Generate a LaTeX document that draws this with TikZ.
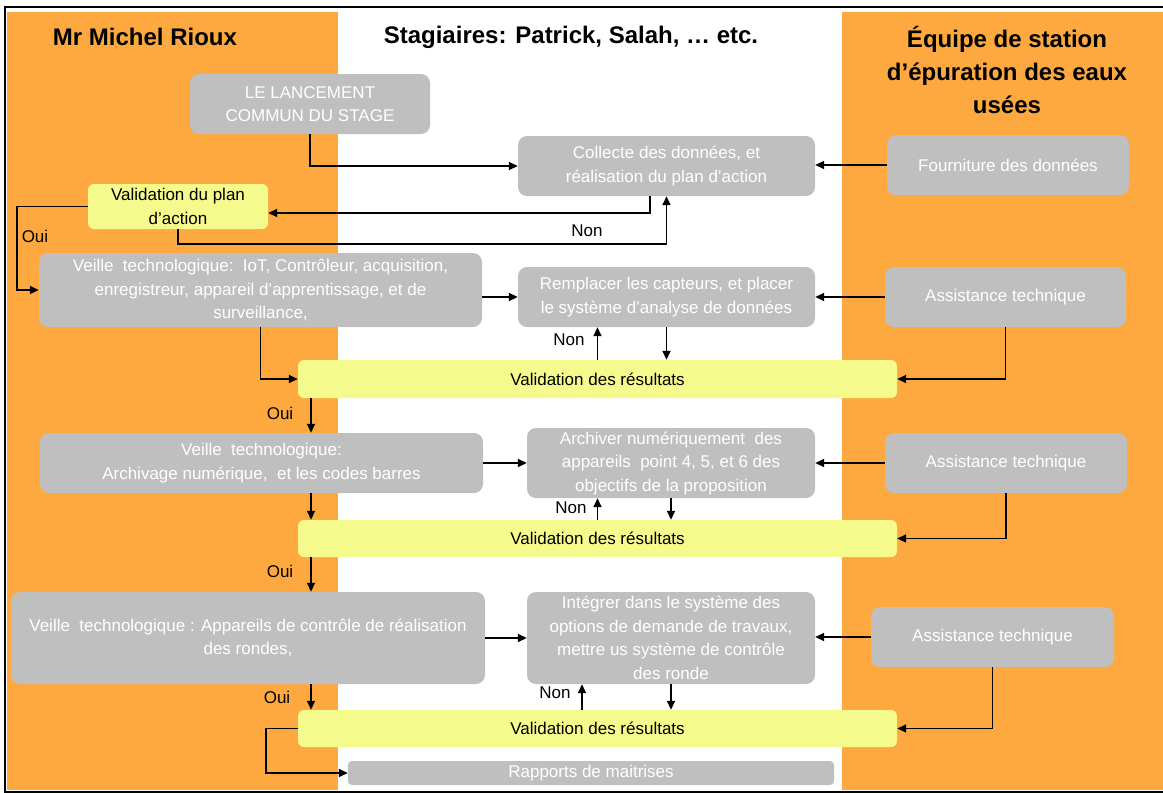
\documentclass[tikz,border=0pt]{standalone}
\usepackage{fontspec}
\setmainfont{Liberation Sans}
\usetikzlibrary{arrows.meta}
\definecolor{laneorange}{RGB}{253,169,64}
\definecolor{boxgray}{RGB}{191,191,191}
\definecolor{checkyellow}{RGB}{244,250,140}
\newcommand{\bodyfont}{\fontsize{17}{23.5}\selectfont}
\newcommand{\headfont}{\fontsize{24}{33}\selectfont\bfseries}

\begin{document}
\begin{tikzpicture}[x=1pt,y=-1pt,
  task/.style={rounded corners=9pt, fill=boxgray, text=white, inner sep=0pt, align=center, font=\bodyfont},
  check/.style={rounded corners=6pt, fill=checkyellow, text=black, inner sep=0pt, align=center, font=\bodyfont},
  lbl/.style={font=\bodyfont, inner sep=0pt},
  head/.style={font=\headfont, align=center, inner sep=0pt},
  arr/.style={line width=1.6pt, -{Triangle[length=9pt,width=8pt]}}]

\useasboundingbox (0,0) rectangle (1163,793);

% swimlanes and frame
\fill[laneorange] (7,12) rectangle (338,790);
\fill[laneorange] (842,12) rectangle (1165,790);
\draw[line width=1.5pt] (5,7) rectangle (1166,792);

% lane headings
\node[head] (hleft) at (145,37) {Mr Michel Rioux};
\node[head] (hmid) at (571,37) {Stagiaires: Patrick, Salah, … etc.};
\node[head] (hright) at (1007,70) {Équipe de station\\d’épuration des eaux\\usées};

% shared column for the downward flow
\coordinate (colx) at (311,0);

% process boxes
\node[task, minimum width=240pt, minimum height=60pt] (lanc) at (310,104) {LE LANCEMENT\\COMMUN DU STAGE};
\node[task, minimum width=297pt, minimum height=60pt] (coll) at (666.5,166) {Collecte des données, et\\réalisation du plan d’action};
\node[task, minimum width=242pt, minimum height=60pt] (fourn) at (1008,165) {Fourniture des données};
\node[check, minimum width=180pt, minimum height=45pt] (vplan) at (178,206.5) {Validation du plan\\d’action};

\node[task, minimum width=443pt, minimum height=74pt] (v1) at (260.5,290) {Veille\ \ technologique:\ \ IoT, Contrôleur, acquisition,\\enregistreur, appareil d’apprentissage, et de\\surveillance,};
\node[task, minimum width=297pt, minimum height=60pt] (rempl) at (666.5,297) {Remplacer les capteurs, et placer\\le système d’analyse de données};
\node[task, minimum width=241pt, minimum height=60pt] (ast1) at (1005.5,297) {Assistance technique};
\node[check, minimum width=599pt, minimum height=38pt] (val1) at (597.5,379) {Validation des résultats};

\node[task, minimum width=443pt, minimum height=60pt] (v2) at (261.5,463) {Veille\ \ technologique:\\Archivage numérique,\ \ et les codes barres};
\node[task, minimum width=288pt, minimum height=70pt] (arch) at (671,463) {Archiver numériquement\ \ des\\appareils\ \ point 4, 5, et 6 des\\objectifs de la proposition};
\node[task, minimum width=242pt, minimum height=60pt] (ast2) at (1006,463) {Assistance technique};
\node[check, minimum width=599pt, minimum height=37pt] (val2) at (597.5,538.5) {Validation des résultats};

\node[task, minimum width=474pt, minimum height=92pt] (v3) at (248,638) {Veille\ \ technologique : Appareils de contrôle de réalisation\\des rondes,};
\node[task, minimum width=288pt, minimum height=92pt] (integ) at (671,638) {Intégrer dans le système des\\options de demande de travaux,\\mettre us système de contrôle\\des ronde};
\node[task, minimum width=243pt, minimum height=60pt] (ast3) at (992.5,637) {Assistance technique};
\node[check, minimum width=599pt, minimum height=37pt] (val3) at (597.5,728.5) {Validation des résultats};

\node[task, rounded corners=4pt, minimum width=486pt, minimum height=24pt] (rapp) at (591,773) {Rapports de maitrises};

% connectors: kick-off and action plan
\draw[arr] (lanc.south) |- (coll.west);
\draw[arr] (fourn.west) -- (fourn.west -| coll.east);
\draw[arr] ([xshift=-16.5pt]coll.south) |- ([yshift=-6.5pt]vplan.east);
\draw[arr] (vplan.south) -- ++(0,15) -| (coll.south);
\draw[arr] (vplan.west) -- ++(-71,0) |- (v1.west);

% first technology watch cycle
\draw[arr] (v1.east |- rempl.west) -- (rempl.west);
\draw[arr] (ast1.west) -- (rempl.east);
\draw[arr] (v1.south) |- (val1.west);
\draw[arr] (ast1.south) |- (val1.east);
\draw[arr] (rempl.south) -- (rempl.south |- val1.north);
\draw[arr] (val1.north) -- (val1.north |- rempl.south);
\draw[arr] (val1.south -| colx) -- (v2.north -| colx);

% second cycle
\draw[arr] (v2.east) -- (arch.west);
\draw[arr] (ast2.west) -- (arch.east);
\draw[arr] (ast2.south) |- (val2.east);
\draw[arr] (v2.south -| colx) -- (val2.north -| colx);
\draw[arr] (arch.south) -- (arch.south |- val2.north);
\draw[arr] (val2.north) -- (val2.north |- arch.south);
\draw[arr] (val2.south -| colx) -- (v3.north -| colx);

% third cycle and reports
\draw[arr] (v3.east) -- (integ.west);
\draw[arr] (ast3.west) -- (ast3.west -| integ.east);
\draw[arr] (ast3.south) |- (val3.east);
\draw[arr] (v3.south -| colx) -- (val3.north -| colx);
\draw[arr] (integ.south) -- (integ.south |- val3.north);
\draw[arr] ([xshift=-15.5pt]val3.north) -- ([xshift=-15.5pt]val3.north |- integ.south);
\draw[arr] (val3.west) -- ++(-32,0) |- (rapp.west);

% decision labels
\node[lbl] (oui0) at (35,236) {Oui};
\node[lbl] (non0) at (587,231) {Non};
\node[lbl] (non1) at (569,340) {Non};
\node[lbl] (oui1) at (280,413) {Oui};
\node[lbl] (non2) at (571,508) {Non};
\node[lbl] (oui2) at (280,571) {Oui};
\node[lbl] (non3) at (555,693) {Non};
\node[lbl] (oui3) at (277,697) {Oui};

\end{tikzpicture}
\end{document}
